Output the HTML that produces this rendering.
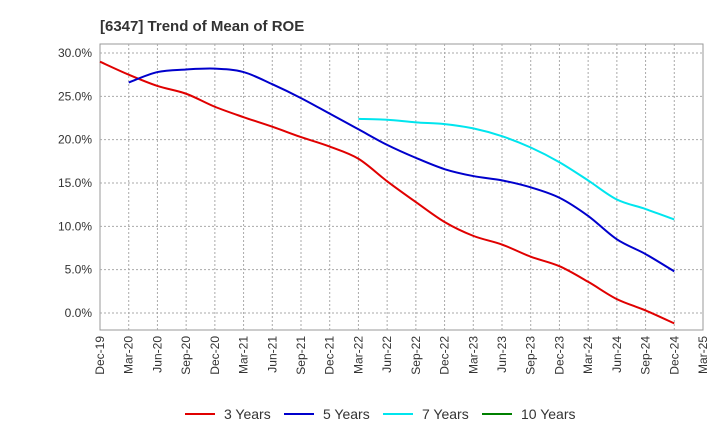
<!DOCTYPE html>
<html><head><meta charset="utf-8"><style>
body{margin:0;background:#fff;}
svg text{font-family:"Liberation Sans",sans-serif;}
</style></head><body>
<svg id="chart" width="720" height="440" xmlns="http://www.w3.org/2000/svg">
<text x="100" y="31" font-size="15" font-weight="bold" fill="#333">[6347]  Trend of Mean of ROE</text>
</svg>
<script>
const categories=["Dec-19","Mar-20","Jun-20","Sep-20","Dec-20","Mar-21","Jun-21","Sep-21","Dec-21","Mar-22","Jun-22","Sep-22","Dec-22","Mar-23","Jun-23","Sep-23","Dec-23","Mar-24","Jun-24","Sep-24","Dec-24","Mar-25"];
const yTicks=[0,5,10,15,20,25,30];
const series3=[29.0,27.5,26.2,25.3,23.8,22.6,21.5,20.3,19.2,17.8,15.2,12.8,10.5,8.9,7.9,6.5,5.4,3.6,1.6,0.3,-1.2];
const series5=[null,26.6,27.8,28.1,28.2,27.8,26.4,24.8,23.0,21.2,19.4,17.9,16.6,15.8,15.3,14.5,13.3,11.2,8.5,6.8,4.8];
const series7=[null,null,null,null,null,null,null,null,null,22.4,22.3,22.0,21.8,21.3,20.4,19.1,17.4,15.3,13.1,12.0,10.8];
const series10=[];
const svg=document.getElementById('chart');
const NS='http://www.w3.org/2000/svg';
const L=100,R=703,T=44,B=330;
const x=i=>L+i*(R-L)/(categories.length-1);
const y=v=>313-(v/5)*43.33;
function mk(tag,attrs,parent){const e=document.createElementNS(NS,tag);for(const k in attrs)e.setAttribute(k,attrs[k]);(parent||svg).appendChild(e);return e;}
const plot=mk('rect',{x:L,y:T,width:R-L,height:B-T,fill:'#fff',stroke:'#999'});


categories.forEach((c,i)=>{
  if(i>0&&i<categories.length-1){const g=mk('line',{x1:x(i),x2:x(i),y1:T,y2:B,stroke:'#aaa','stroke-dasharray':'2,2'});
  
  }
  const t=mk('text',{x:0,y:0,'font-size':12,fill:'#333','text-anchor':'end',transform:`translate(${x(i)+4},336) rotate(-90)`});
  t.textContent=c;
  
  
});
yTicks.forEach(v=>{
  const g=mk('line',{x1:L,x2:R,y1:y(v),y2:y(v),stroke:'#aaa','stroke-dasharray':'2,2'});
  
  
  const t=mk('text',{x:L-8,y:y(v)+4,'font-size':12,fill:'#333','text-anchor':'end'});
  t.textContent=v.toFixed(1)+'%';
  
  
});
function path(data,color,name){
  const pts=[];data.forEach((v,i)=>{if(v!==null&&v!==undefined)pts.push([x(i),y(v)]);});
  if(pts.length<2)return;
  let d=`M${pts[0][0]},${pts[0][1]}`;
  for(let i=0;i<pts.length-1;i++){
    const p0=pts[i-1]||pts[i],p1=pts[i],p2=pts[i+1],p3=pts[i+2]||p2;
    const c1=[p1[0]+(p2[0]-p0[0])/6,p1[1]+(p2[1]-p0[1])/6],c2=[p2[0]-(p3[0]-p1[0])/6,p2[1]-(p3[1]-p1[1])/6];
    d+=`C${c1[0]},${c1[1]} ${c2[0]},${c2[1]} ${p2[0]},${p2[1]}`;
  }
  const p=mk('path',{d,fill:'none',stroke:color,'stroke-width':2});
  
  
}
path(series3,'#e00000','line-3-years');
path(series5,'#0000cc','line-5-years');
path(series7,'#00e5ee','line-7-years');
path(series10,'#008000','line-10-years');
const legend=[['3 Years','#e00000',185],['5 Years','#0000cc',284],['7 Years','#00e5ee',383],['10 Years','#008000',482]];
legend.forEach(([n,c,lx])=>{
  const g=mk('g',{});
  
  
  mk('line',{x1:lx,x2:lx+30,y1:414,y2:414,stroke:c,'stroke-width':2},g);
  const t=mk('text',{x:lx+39,y:419,'font-size':14,fill:'#333'},g);t.textContent=n;
});
</script>
</body></html>
